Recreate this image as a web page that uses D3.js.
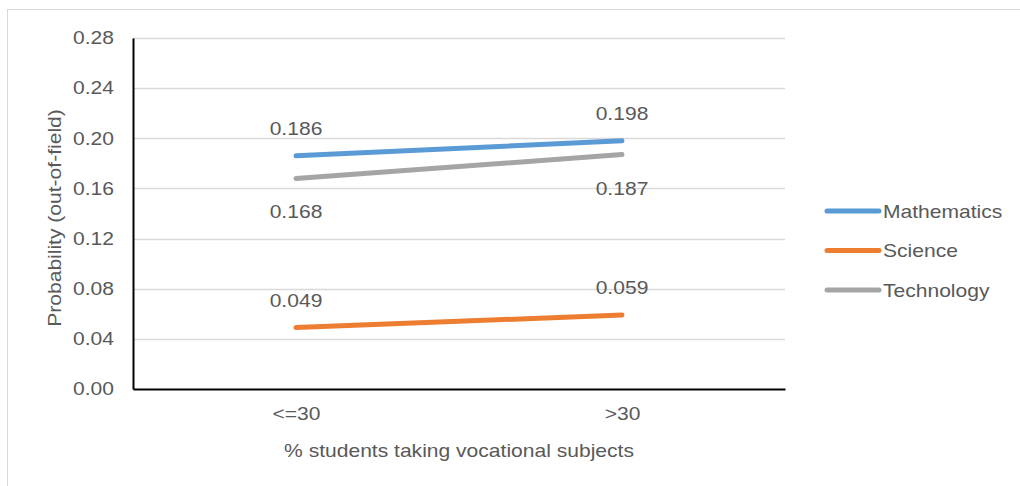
<!DOCTYPE html>
<html>
<head>
<meta charset="utf-8">
<script src="https://cdn.jsdelivr.net/npm/d3@7"></script>
<style>
  body { margin: 0; background: #fff; }
  svg text { font-family: "Liberation Sans", Arial, sans-serif; fill: #595959; }
</style>
</head>
<body>
<script>
// chart data
var categories = ["<=30", ">30"];
var seriesNames = ["Mathematics", "Science", "Technology"];
var mathValues = [0.186, 0.198];
var scienceValues = [0.049, 0.059];
var techValues = [0.168, 0.187];
var yTicks = [0, 0.04, 0.08, 0.12, 0.16, 0.20, 0.24, 0.28];

var colors = ["#5b9bd5", "#ed7d31", "#a5a5a5"];
var series = [mathValues, scienceValues, techValues];
var labelPos = ["above", "above", "below"];

var W = 1020, H = 486;
var margin = { top: 38, right: 235, bottom: 97, left: 133 };
var width = W - margin.left - margin.right,
    height = H - margin.top - margin.bottom;
var FS = "18px", SX = 1.17; // text in the original is a bit wider than Arial

// widen a text along its own direction, keeping its anchor point
function widen(sel) {
    sel.each(function() {
        var t = d3.select(this);
        var tx = +t.attr("x") || 0, ty = +t.attr("y") || 0;
        var rot = t.attr("data-rot") || 0;
        t.attr("x", 0).attr("y", 0)
            .attr("transform", "translate(" + tx + "," + ty + ") rotate(" + rot + ") scale(" + SX + ",1)");
    });
}

var svg = d3.select("body").append("svg")
    .attr("width", W)
    .attr("height", H);

// outer chart border
svg.append("rect")
    .attr("x", 7.5).attr("y", 9.5)
    .attr("width", W + 20).attr("height", H + 20)
    .attr("fill", "none")
    .attr("stroke", "#d9d9d9");

var g = svg.append("g")
    .attr("transform", "translate(" + margin.left + "," + margin.top + ")");

var x = d3.scalePoint().domain(categories).range([0, width]).padding(0.5);
var y = d3.scaleLinear().domain([0, 0.28]).range([height, 0]);

// gridlines
g.selectAll(".grid")
    .data(yTicks.slice(1))
    .enter().append("line")
    .attr("x1", 0).attr("x2", width)
    .attr("y1", function(d) { return Math.round(y(d)) + 0.5; })
    .attr("y2", function(d) { return Math.round(y(d)) + 0.5; })
    .attr("stroke", "#d9d9d9")
    .attr("stroke-width", 1.5);

// y axis
var yAxis = g.append("g")
    .call(d3.axisLeft(y).tickValues(yTicks).tickFormat(d3.format(".2f")).tickSize(0).tickPadding(19));
yAxis.select(".domain").attr("stroke", "#000").attr("stroke-width", 2);
yAxis.selectAll("text").style("font-size", FS).attr("fill", "#595959").call(widen);

// x axis
var xAxis = g.append("g")
    .attr("transform", "translate(0," + height + ")")
    .call(d3.axisBottom(x).tickSize(0).tickPadding(18));
xAxis.select(".domain").attr("stroke", "#000").attr("stroke-width", 2);
xAxis.selectAll("text").style("font-size", FS).attr("fill", "#595959").call(widen);

// lines
var line = d3.line()
    .x(function(d, i) { return x(categories[i]); })
    .y(function(d) { return y(d); });

series.forEach(function(vals, k) {
    g.append("path")
        .datum(vals)
        .attr("fill", "none")
        .attr("stroke", colors[k])
        .attr("stroke-width", 5)
        .attr("stroke-linecap", "round")
        .attr("d", line);

    g.selectAll(".lbl" + k)
        .data(vals)
        .enter().append("text")
        .attr("x", function(d, i) { return x(categories[i]); })
        .attr("y", function(d) { return labelPos[k] == "above" ? y(d) - 21 : y(d) + 40; })
        .attr("text-anchor", "middle")
        .style("font-size", FS)
        .text(function(d) { return d3.format(".3f")(d); })
        .call(widen);
});

// axis titles
svg.append("text")
    .attr("x", 459).attr("y", 457)
    .attr("text-anchor", "middle")
    .style("font-size", FS)
    .text("% students taking vocational subjects")
    .call(widen);

svg.append("text")
    .attr("x", 61).attr("y", 218)
    .attr("data-rot", -90)
    .attr("text-anchor", "middle")
    .style("font-size", FS)
    .text("Probability (out-of-field)")
    .call(widen);

// legend
var legend = svg.append("g");
seriesNames.forEach(function(name, k) {
    var ly = 211 + k * 39.5;
    legend.append("line")
        .attr("x1", 827).attr("x2", 879)
        .attr("y1", ly).attr("y2", ly)
        .attr("stroke", colors[k])
        .attr("stroke-width", 5)
        .attr("stroke-linecap", "round");
    legend.append("text")
        .attr("x", 883).attr("y", ly + 6.5)
        .style("font-size", FS)
        .text(name)
        .call(widen);
});
</script>
</body>
</html>
